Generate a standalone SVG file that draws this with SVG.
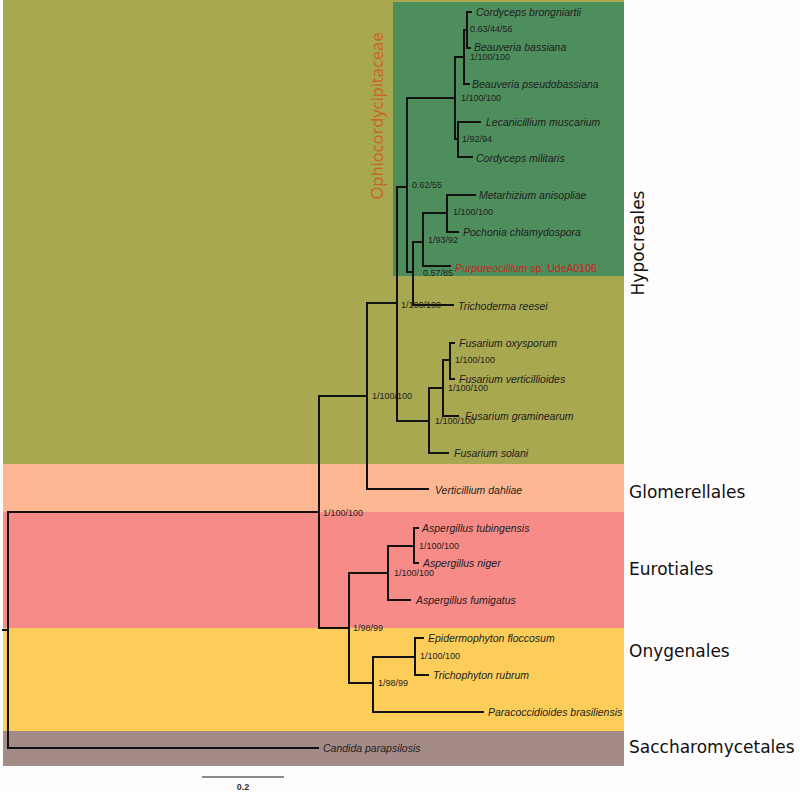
<svg xmlns="http://www.w3.org/2000/svg" width="800" height="792" viewBox="0 0 800 792">
<style>
.sp{font-family:"Liberation Sans",Arial,sans-serif;font-style:italic;font-size:10.5px;fill:#1e1e1e}
.bs{font-family:"Liberation Sans",Arial,sans-serif;font-size:9px;fill:#1e1e1e}
.cl{font-family:"DejaVu Sans",Verdana,sans-serif;font-size:17px;fill:#111}
.br{fill:none;stroke:#111;stroke-width:2;stroke-linecap:square}
</style>
<rect width="800" height="792" fill="#fefcfd"/>
<g id="bands">
<rect x="3" y="0" width="621" height="464" fill="#a8a850"/>
<rect x="393" y="2" width="231" height="274" fill="#4e8e5c"/>
<rect x="3" y="464" width="621" height="48" fill="#fdb893"/>
<rect x="3" y="512" width="621" height="116" fill="#f78b87"/>
<rect x="3" y="628" width="621" height="103" fill="#fdcd5a"/>
<rect x="3" y="731" width="621" height="35" fill="#a58b87"/>
</g>
<g id="connectors" class="br">
<path d="M3 630H8M8 512V748M8 512H319M8 748H318"/>
<path d="M319 396V628M319 396H367M319 628H349"/>
<path d="M367 303V489M367 303H397M367 489H428"/>
<path d="M397 187V421M397 187H407M397 421H429"/>
<path d="M407 98V272M407 98H455M407 272H413"/>
<path d="M413 242V305M413 242H423M413 305H453"/>
<path d="M423 213V266M423 213H447M423 266H450"/>
<path d="M447 195V232M447 195H475M447 232H458"/>
<path d="M455 57V139M455 57H464M455 139H458"/>
<path d="M458 122V157M458 122H480M458 157H472"/>
<path d="M464 30V84M464 30H467M464 84H469"/>
<path d="M467 12V48M467 12H471M467 48H470"/>
<path d="M429 388V453M429 388H443M429 453H448"/>
<path d="M443 360V416M443 360H450M443 416H458"/>
<path d="M450 343V379M450 343H454M450 379H454"/>
<path d="M349 573V683M349 573H388M349 683H373"/>
<path d="M388 546V600M388 546H414M388 600H410"/>
<path d="M414 528V563M414 528H418M414 563H418"/>
<path d="M373 657V712M373 657H415M373 712H483"/>
<path d="M415 638V675M415 638H423M415 675H428"/>
</g>
<g id="supports" class="bs">
<g id="n-cb-bb"><text x="470" y="32">0.63/44/56</text></g>
<g id="n-beauveria"><text x="470" y="60">1/100/100</text></g>
<g id="n-cordycipitaceae"><text x="461" y="101">1/100/100</text></g>
<g id="n-lec-mil"><text x="462" y="142">1/92/94</text></g>
<g id="n-ophio"><text x="412" y="188">0.62/55</text></g>
<g id="n-met-poc"><text x="453" y="215">1/100/100</text></g>
<g id="n-clav"><text x="428" y="243">1/93/92</text></g>
<g id="n-tricho"><text x="423" y="276">0.57/85</text></g>
<g id="n-hypo"><text x="401" y="308">1/100/100</text></g>
<g id="n-fus-ov"><text x="455" y="363">1/100/100</text></g>
<g id="n-fus-ovg"><text x="448" y="391">1/100/100</text></g>
<g id="n-fusarium"><text x="435" y="424">1/100/100</text></g>
<g id="n-sordario"><text x="372" y="399">1/100/100</text></g>
<g id="n-pezizo"><text x="323" y="516">1/100/100</text></g>
<g id="n-asp-tn"><text x="419" y="549">1/100/100</text></g>
<g id="n-asp"><text x="394" y="576">1/100/100</text></g>
<g id="n-eurotio"><text x="353" y="631">1/98/99</text></g>
<g id="n-derm"><text x="420" y="659">1/100/100</text></g>
<g id="n-onyg"><text x="378" y="686">1/98/99</text></g>
</g>
<g id="taxa" class="sp">
<g id="t-cbrong"><text x="476" y="16">Cordyceps brongniartii</text></g>
<g id="t-bbass"><text x="474" y="51">Beauveria bassiana</text></g>
<g id="t-bpseudo"><text x="472" y="88">Beauveria pseudobassiana</text></g>
<g id="t-lecan"><text x="486" y="126">Lecanicillium muscarium</text></g>
<g id="t-cmil"><text x="476" y="162">Cordyceps militaris</text></g>
<g id="t-metar"><text x="479" y="199">Metarhizium anisopliae</text></g>
<g id="t-pochon"><text x="463" y="236">Pochonia chlamydospora</text></g>
<g id="t-purp"><text x="455" y="272" fill="#c4281f">Purpureocillium<tspan font-style="normal"> sp. UdeA0106</tspan></text></g>
<g id="t-trich"><text x="458" y="310">Trichoderma reesei</text></g>
<g id="t-foxy"><text x="459" y="347">Fusarium oxysporum</text></g>
<g id="t-fvert"><text x="459" y="383">Fusarium verticillioides</text></g>
<g id="t-fgram"><text x="465" y="420">Fusarium graminearum</text></g>
<g id="t-fsol"><text x="454" y="457">Fusarium solani</text></g>
<g id="t-vdah"><text x="435" y="494">Verticillium dahliae</text></g>
<g id="t-atub"><text x="422" y="532">Aspergillus tubingensis</text></g>
<g id="t-anig"><text x="423" y="567">Aspergillus niger</text></g>
<g id="t-afum"><text x="416" y="604">Aspergillus fumigatus</text></g>
<g id="t-epid"><text x="428" y="642">Epidermophyton floccosum</text></g>
<g id="t-trub"><text x="433" y="679">Trichophyton rubrum</text></g>
<g id="t-parac"><text x="488" y="716">Paracoccidioides brasiliensis</text></g>
<g id="t-cand"><text x="323" y="752">Candida parapsilosis</text></g>
</g>
<g id="clades">
<g id="c-ophio"><text transform="translate(383,116) rotate(-90)" text-anchor="middle" font-family="'Open Sans',sans-serif" font-size="16.5" fill="#c9651c">Ophiocordycipitaceae</text></g>
<g id="c-hypo"><text class="cl" transform="translate(644,243) rotate(-90)" text-anchor="middle">Hypocreales</text></g>
<g id="c-glom"><text class="cl" x="629" y="498">Glomerellales</text></g>
<g id="c-euro"><text class="cl" x="629" y="575">Eurotiales</text></g>
<g id="c-onyg"><text class="cl" x="629" y="657">Onygenales</text></g>
<g id="c-sacch"><text class="cl" x="629" y="753">Saccharomycetales</text></g>
</g>
<g id="scalebar">
<path d="M202 777H284" stroke="#666" stroke-width="1.5"/>
<text x="243" y="790" text-anchor="middle" font-family="'Liberation Sans',Arial,sans-serif" font-size="9" font-weight="bold" fill="#333">0.2</text>
</g>
</svg>
